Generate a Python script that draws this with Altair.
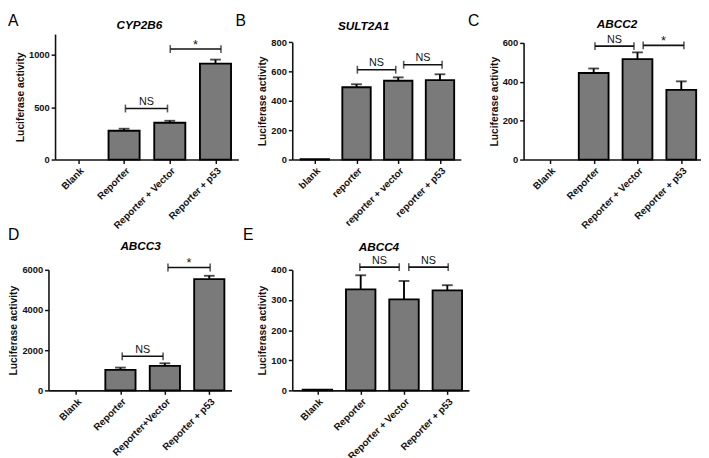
import json
import altair as alt
import pandas as pd

# ---------------- data ----------------
panel_letters = ["A", "B", "C", "D", "E"]
genes = ["CYP2B6", "SULT2A1", "ABCC2", "ABCC3", "ABCC4"]

labels_A = ["Blank", "Reporter", "Reporter + Vector", "Reporter + p53"]
labels_B = ["blank", "reporter", "reporter + vector", "reporter + p53"]
labels_C = ["Blank", "Reporter", "Reporter + Vector", "Reporter + p53"]
labels_D = ["Blank", "Reporter", "Reporter+Vector", "Reporter + p53"]
labels_E = ["Blank", "Reporter", "Reporter + Vector", "Reporter + p53"]

mean_A = [0, 276, 352, 918]
err_A = [0, 19, 19, 38]
mean_B = [2, 493, 537, 541]
err_B = [0, 20, 23, 40]
mean_C = [0, 445, 516, 358]
err_C = [0, 23, 35, 44]
mean_D = [0, 1020, 1218, 5541]
err_D = [0, 114, 132, 163]
mean_E = [2, 335, 302, 332]
err_E = [0, 47, 61, 17]

# significance brackets: start, end (category positions), height, label
sig_A = [(1.03, 1.95, 488, "NS"), (2.01, 3.12, 1057, "*")]
sig_B = [(1.02, 1.94, 612, "NS"), (2.13, 3.05, 646, "NS")]
sig_C = [(1.03, 1.92, 583, "NS"), (2.13, 3.06, 587, "*")]
sig_D = [(1.04, 1.96, 1696, "NS"), (2.07, 3.02, 6115, "*")]
sig_E = [(0.98, 1.89, 409, "NS"), (2.11, 3.02, 409, "NS")]

yticks_A, ymax_A = [0, 500, 1000], 1200
yticks_B, ymax_B = [0, 200, 400, 600, 800], 800
yticks_C, ymax_C = [0, 200, 400, 600], 600
yticks_D, ymax_D = [0, 2000, 4000, 6000], 6000
yticks_E, ymax_E = [0, 100, 200, 300, 400], 400

FONT = "Liberation Sans"
FILL = "#7a7a7a"
INK = "#111111"


def panel(letter, gene, labels, means, errs, sigs, yticks, ymax, xdom, width, height,
          xrange=None, yrange=None, yoffset=0, letter_xy=(0, 0), title_xy=(0, 0)):
    df = pd.DataFrame({"pos": list(range(len(labels))), "label": labels,
                       "mean": means, "err": errs})
    sig = pd.DataFrame(sigs, columns=["x1", "x2", "y", "txt"])

    xs = dict(domain=xdom, nice=False, zero=False)
    if xrange:
        xs["range"] = xrange
    ys = dict(domain=[0, ymax], nice=False)
    if yrange:
        ys["range"] = yrange
    xscale = alt.Scale(**xs)
    yscale = alt.Scale(**ys)

    xaxis = alt.Axis(values=list(range(len(labels))),
                     labelExpr=json.dumps(labels) + "[datum.value]",
                     labelAngle=-45, labelOverlap=False, title=None, grid=False,
                     labelFontSize=10, labelFontWeight="bold", labelColor=INK,
                     tickSize=4, tickWidth=1.5, tickColor=INK,
                     domainWidth=1.6, domainColor=INK, labelPadding=2)
    yaxis = alt.Axis(values=yticks, format="d", title="Luciferase activity",
                     grid=False, offset=yoffset, labelOverlap=False,
                     labelFontSize=9.5, labelFontWeight="bold", labelColor=INK,
                     tickSize=4, tickWidth=1.5, tickColor=INK,
                     domainWidth=1.6, domainColor=INK, labelPadding=2,
                     titleFontSize=10.5, titleFontWeight="bold", titleColor=INK,
                     titlePadding=3)

    def X(field):
        return alt.X(field, type="quantitative", scale=xscale, axis=xaxis)

    def Y(field):
        return alt.Y(field, type="quantitative", scale=yscale, axis=yaxis)

    base = alt.Chart(df)
    bars = base.transform_filter("datum.mean > 0").transform_calculate(
        lo="datum.pos - 0.34", hi="datum.pos + 0.34"
    ).mark_bar(fill=FILL, stroke="black", strokeWidth=1.9).encode(
        x=X("lo"), x2="hi:Q", y=Y("mean"), y2=alt.datum(0)
    )
    eb = base.transform_filter("datum.err > 0").transform_calculate(
        top="datum.mean + datum.err")
    err_line = eb.mark_rule(color="black", strokeWidth=1.9).encode(
        x=X("pos"), y=Y("mean"), y2="top:Q")
    err_cap = eb.mark_tick(orient="horizontal", size=11, thickness=1.9,
                           color="black").encode(x=X("pos"), y=Y("top"))

    sb = alt.Chart(sig)
    br_line = sb.mark_rule(color=INK, strokeWidth=1.6).encode(
        x=X("x1"), x2="x2:Q", y=Y("y"))
    br_l = sb.mark_tick(orient="vertical", size=8, thickness=1.6, color=INK).encode(
        x=X("x1"), y=Y("y"))
    br_r = sb.mark_tick(orient="vertical", size=8, thickness=1.6, color=INK).encode(
        x=X("x2"), y=Y("y"))
    sbm = sb.transform_calculate(mid="(datum.x1 + datum.x2) / 2")
    ns_txt = sbm.transform_filter("datum.txt == 'NS'").mark_text(
        font=FONT, fontSize=11, color=INK, baseline="alphabetic", dy=-3.5
    ).encode(x=X("mid"), y=Y("y"), text="txt:N")
    star_txt = sbm.transform_filter("datum.txt == '*'").mark_text(
        font=FONT, fontSize=13, color=INK, baseline="alphabetic", dy=-0.5
    ).encode(x=X("mid"), y=Y("y"), text="txt:N")

    ann = alt.Chart(pd.DataFrame({"letter": [letter], "gene": [gene]}))
    letter_mark = ann.mark_text(
        font=FONT, fontSize=16, color="black", align="left", baseline="top"
    ).encode(text="letter:N", x=alt.value(letter_xy[0]), y=alt.value(letter_xy[1]))
    gene_mark = ann.mark_text(
        font=FONT, fontSize=12, fontWeight="bold", fontStyle="italic",
        color="black", align="center", baseline="alphabetic"
    ).encode(text="gene:N", x=alt.value(title_xy[0]), y=alt.value(title_xy[1]))

    return alt.layer(bars, err_line, err_cap, br_line, br_l, br_r, ns_txt,
                     star_txt, letter_mark, gene_mark).properties(
        width=width, height=height)


pA = panel(panel_letters[0], genes[0], labels_A, mean_A, err_A, sig_A, yticks_A, ymax_A,
           [-0.51, 3.5], 187, 128, letter_xy=(-48, -21.4), title_xy=(86, -5.5))
pB = panel(panel_letters[1], genes[1], labels_B, mean_B, err_B, sig_B, yticks_B, ymax_B,
           [-0.54, 3.5], 172, 128, yrange=[128, 8.2],
           letter_xy=(-58, -21.4), title_xy=(72.8, -4.5))
pC = panel(panel_letters[2], genes[2], labels_C, mean_C, err_C, sig_C, yticks_C, ymax_C,
           [-0.6, 3.45], 181, 128, yrange=[128, 8.9],
           letter_xy=(-56.7, -21.4), title_xy=(95.3, -6.1))
pD = panel(panel_letters[3], genes[3], labels_D, mean_D, err_D, sig_D, yticks_D, ymax_D,
           [-0.62, 3.5], 177.3, 123, xrange=[-6.7, 180], yoffset=6.7,
           letter_xy=(-48, -43.7), title_xy=(87.3, -20.5))
pE = panel(panel_letters[4], genes[4], labels_E, mean_E, err_E, sig_E, yticks_E, ymax_E,
           [-0.58, 3.5], 180.3, 123,
           letter_xy=(-50.3, -43.7), title_xy=(88.4, -19.5))

chart = alt.concat(
    pA, pB, pC, pD, pE, columns=3, bounds="flush", align="none",
    spacing={"row": 112.5, "column": 55}
).properties(padding=0, background="white").configure_view(
    stroke=None
).configure_axis(labelFont=FONT, titleFont=FONT)

chart.save("out.html", embed_options={"renderer": "svg", "actions": False})
